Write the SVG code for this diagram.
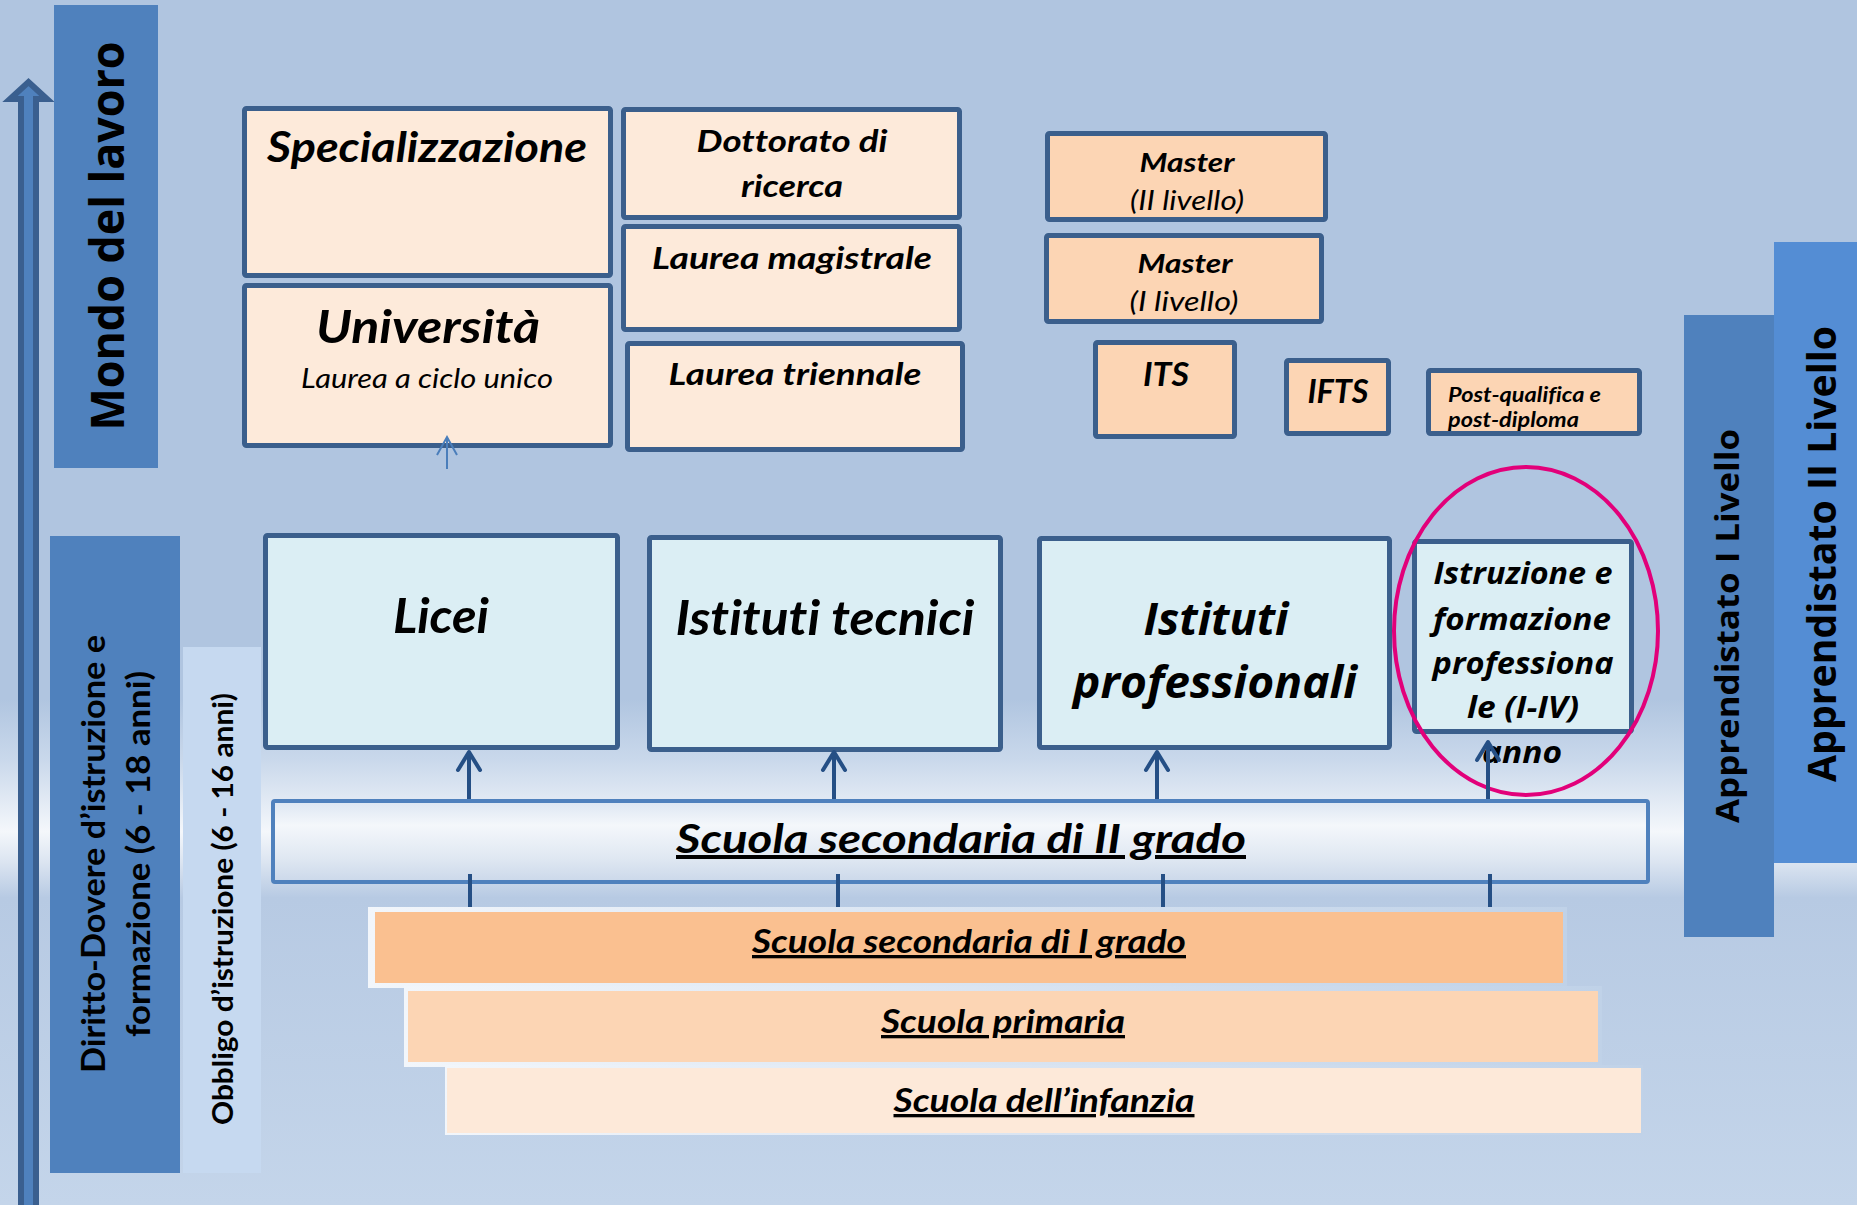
<svg xmlns="http://www.w3.org/2000/svg" width="1857" height="1205" viewBox="0 0 1857 1205">
<defs>
<linearGradient id="bg" x1="0" y1="0" x2="0" y2="1">
<stop offset="0" stop-color="#b0c5e0"/>
<stop offset="0.58" stop-color="#b0c5e0"/>
<stop offset="0.63" stop-color="#c9d8eb"/>
<stop offset="0.665" stop-color="#e2eaf4"/>
<stop offset="0.69" stop-color="#f4f7fb"/>
<stop offset="0.715" stop-color="#dce5f1"/>
<stop offset="0.745" stop-color="#b7cae3"/>
<stop offset="1" stop-color="#c4d5ea"/>
</linearGradient>
<linearGradient id="sec2" x1="0" y1="0" x2="0" y2="1">
<stop offset="0" stop-color="#dce6f2"/>
<stop offset="0.3" stop-color="#f4f7fb"/>
<stop offset="0.7" stop-color="#e0e8f2"/>
<stop offset="1" stop-color="#cbd8ea"/>
</linearGradient>
<linearGradient id="frame" x1="0" y1="0" x2="1" y2="0">
<stop offset="0" stop-color="#f2f6fb"/>
<stop offset="1" stop-color="#c0d2e8"/>
</linearGradient>
<marker id="ah" markerUnits="userSpaceOnUse" markerWidth="28" markerHeight="28" refX="21" refY="14" orient="auto">
<path d="M3,3 L21,14 L3,25" fill="none" stroke="#254f85" stroke-width="4" stroke-linecap="round" stroke-linejoin="round"/>
</marker>
<marker id="ahs" markerUnits="userSpaceOnUse" markerWidth="24" markerHeight="24" refX="20" refY="12" orient="auto">
<path d="M2,2 L20,12 L2,22" fill="none" stroke="#4a7ebb" stroke-width="2"/>
</marker>
</defs>
<style>
.box{stroke:#3b5f8c;stroke-width:5}
.p1{fill:#fdeada}
.p2{fill:#fcd5b4}
.cy{fill:#dbeef4}
text{font-variant-ligatures:none}
.t{font-family:Lato,'Liberation Sans',sans-serif;font-weight:bold;font-style:italic;fill:#000;text-anchor:middle}
.ti{font-family:Lato,'Liberation Sans',sans-serif;font-weight:normal;font-style:italic;fill:#000;text-anchor:middle}
.o{font-family:'Open Sans','DejaVu Sans',sans-serif;font-weight:bold;font-style:italic;fill:#000;text-anchor:middle}
.ob{font-family:'Open Sans','DejaVu Sans',sans-serif;font-weight:bold;fill:#000;text-anchor:middle}
.lb{font-family:Lato,'Liberation Sans',sans-serif;font-weight:bold;fill:#000;text-anchor:middle}
.conn{stroke:#254f85;stroke-width:4;fill:none}
</style>
<rect x="0" y="0" width="1857" height="1205" fill="url(#bg)"/>

<g id="arrow-mondo">
<polygon points="21,1212 21,99 10,99 28.5,82 47,99 36,99 36,1212" fill="#4f81bd" stroke="#3a5f8f" stroke-width="6" stroke-linejoin="miter"/>
</g>

<g id="mondo-lavoro">
<rect x="54" y="5" width="104" height="463" fill="#4f81bd"/>
<text class="ob" font-size="46" transform="translate(124,236) rotate(-90)" textLength="389" lengthAdjust="spacingAndGlyphs">Mondo del lavoro</text>
</g>

<g id="diritto-dovere">
<rect x="50" y="536" width="130" height="637" fill="#4f81bd"/>
<text class="lb" font-size="33" transform="translate(105,854) rotate(-90)" textLength="438" lengthAdjust="spacingAndGlyphs">Diritto-Dovere d’istruzione e</text>
<text class="lb" font-size="33" transform="translate(150,854) rotate(-90)" textLength="366" lengthAdjust="spacingAndGlyphs">formazione (6 - 18 anni)</text>
</g>

<g id="obbligo">
<rect x="183" y="647" width="78" height="526" fill="#c6d9f0"/>
<text class="lb" font-size="28" transform="translate(233,909) rotate(-90)" textLength="432" lengthAdjust="spacingAndGlyphs">Obbligo d’istruzione (6 - 16 anni)</text>
</g>

<g id="apprendistato-1">
<rect x="1684" y="315" width="90" height="622" fill="#4f81bd"/>
<text class="ob" font-size="33" transform="translate(1739,626) rotate(-90)" textLength="394" lengthAdjust="spacingAndGlyphs">Apprendistato I Livello</text>
</g>

<g id="apprendistato-2">
<rect x="1774" y="242" width="83" height="621" fill="#548dd4"/>
<text class="ob" font-size="39" transform="translate(1836,554) rotate(-90)" textLength="456" lengthAdjust="spacingAndGlyphs">Apprendistato II Livello</text>
</g>

<g id="specializzazione">
<rect class="box p1" x="244.5" y="108.5" width="366" height="167" rx="2"/>
<text class="t" x="427" y="162" font-size="42" textLength="320" lengthAdjust="spacingAndGlyphs">Specializzazione</text>
</g>

<g id="universita">
<rect class="box p1" x="244.5" y="285.5" width="366" height="160" rx="2"/>
<text class="t" x="428" y="343" font-size="46" textLength="224" lengthAdjust="spacingAndGlyphs">Università</text>
<text class="ti" x="427" y="388" font-size="27" textLength="252" lengthAdjust="spacingAndGlyphs">Laurea a ciclo unico</text>
</g>

<g id="dottorato">
<rect class="box p1" x="623.5" y="109.5" width="336" height="108" rx="2"/>
<text class="t" x="792" y="152" font-size="31" textLength="191" lengthAdjust="spacingAndGlyphs">Dottorato di</text>
<text class="t" x="792" y="197" font-size="31" textLength="102" lengthAdjust="spacingAndGlyphs">ricerca</text>
</g>

<g id="laurea-magistrale">
<rect class="box p1" x="623.5" y="226.5" width="336" height="103" rx="2"/>
<text class="t" x="792" y="269" font-size="31" textLength="280" lengthAdjust="spacingAndGlyphs">Laurea magistrale</text>
</g>

<g id="laurea-triennale">
<rect class="box p1" x="627.5" y="343.5" width="335" height="106" rx="2"/>
<text class="t" x="795" y="385" font-size="31" textLength="253" lengthAdjust="spacingAndGlyphs">Laurea triennale</text>
</g>

<g id="master-2">
<rect class="box p2" x="1047.5" y="133.5" width="278" height="86" rx="2"/>
<text class="t" x="1187" y="172" font-size="27" textLength="95" lengthAdjust="spacingAndGlyphs">Master</text>
<text class="ti" x="1187" y="210" font-size="27" textLength="114" lengthAdjust="spacingAndGlyphs">(II livello)</text>
</g>

<g id="master-1">
<rect class="box p2" x="1046.5" y="235.5" width="275" height="86" rx="2"/>
<text class="t" x="1185" y="273" font-size="27" textLength="95" lengthAdjust="spacingAndGlyphs">Master</text>
<text class="ti" x="1184" y="311" font-size="27" textLength="109" lengthAdjust="spacingAndGlyphs">(I livello)</text>
</g>

<g id="its">
<rect class="box p2" x="1095.5" y="342.5" width="139" height="94" rx="2"/>
<text class="t" x="1166" y="386" font-size="32" textLength="46" lengthAdjust="spacingAndGlyphs">ITS</text>
</g>

<g id="ifts">
<rect class="box p2" x="1286.5" y="360.5" width="102" height="73" rx="2"/>
<text class="t" x="1338" y="403" font-size="32" textLength="61" lengthAdjust="spacingAndGlyphs">IFTS</text>
</g>

<g id="post-qualifica">
<rect class="box p2" x="1428.5" y="370.5" width="211" height="63" rx="2" stroke-width="4"/>
<text class="t" x="1448" y="402" font-size="20" style="text-anchor:start" textLength="153" lengthAdjust="spacingAndGlyphs">Post-qualifica e</text>
<text class="t" x="1448" y="427" font-size="20" style="text-anchor:start" textLength="131" lengthAdjust="spacingAndGlyphs">post-diploma</text>
</g>

<g id="licei">
<rect class="box cy" x="265.5" y="535.5" width="352" height="212" rx="2"/>
<text class="t" x="441" y="633" font-size="47" textLength="96" lengthAdjust="spacingAndGlyphs">Licei</text>
</g>

<g id="istituti-tecnici">
<rect class="box cy" x="649.5" y="537.5" width="351" height="212" rx="2"/>
<text class="t" x="825" y="635" font-size="47" textLength="299" lengthAdjust="spacingAndGlyphs">Istituti tecnici</text>
</g>

<g id="istituti-professionali">
<rect class="box cy" x="1039.5" y="538.5" width="350" height="209" rx="2"/>
<text class="o" x="1216" y="635" font-size="45" textLength="145" lengthAdjust="spacingAndGlyphs">Istituti</text>
<text class="o" x="1215" y="698" font-size="45" textLength="284" lengthAdjust="spacingAndGlyphs">professionali</text>
</g>

<g id="iefp">
<rect class="box cy" x="1414.5" y="541.5" width="217" height="190" rx="2"/>
<text class="o" x="1523" y="584" font-size="30" textLength="179" lengthAdjust="spacingAndGlyphs">Istruzione e</text>
<text class="o" x="1522" y="630" font-size="30" textLength="178" lengthAdjust="spacingAndGlyphs">formazione</text>
<text class="o" x="1523" y="674" font-size="30" textLength="181" lengthAdjust="spacingAndGlyphs">professiona</text>
<text class="o" x="1523" y="718" font-size="30" textLength="112" lengthAdjust="spacingAndGlyphs">le (I-IV)</text>
<text class="o" x="1522" y="763" font-size="30" textLength="80" lengthAdjust="spacingAndGlyphs">anno</text>
<ellipse cx="1526" cy="631" rx="132" ry="164" fill="none" stroke="#e2007a" stroke-width="4"/>
</g>

<g id="secondaria-2">
<rect x="273" y="801" width="1375" height="81" rx="2" fill="url(#sec2)" stroke="#4f81bd" stroke-width="4"/>
<text class="t" x="961" y="853" font-size="40" text-decoration="underline" textLength="570" lengthAdjust="spacingAndGlyphs">Scuola secondaria di II grado</text>
</g>

<g id="connectors">
<line class="conn" x1="469" y1="799" x2="469" y2="752" marker-end="url(#ah)"/>
<line class="conn" x1="834" y1="799" x2="834" y2="752" marker-end="url(#ah)"/>
<line class="conn" x1="1157" y1="799" x2="1157" y2="752" marker-end="url(#ah)"/>
<line class="conn" x1="1488" y1="799" x2="1488" y2="742" marker-end="url(#ah)"/>
<line class="conn" x1="470" y1="874" x2="470" y2="911"/>
<line class="conn" x1="838" y1="874" x2="838" y2="911"/>
<line class="conn" x1="1163" y1="874" x2="1163" y2="911"/>
<line class="conn" x1="1490" y1="874" x2="1490" y2="911"/>
<line x1="447" y1="469" x2="447" y2="437" stroke="#4a7ebb" stroke-width="2" marker-end="url(#ahs)"/>
</g>

<g id="secondaria-1">
<rect x="368" y="907" width="1199" height="81" fill="url(#frame)"/>
<rect x="375" y="912" width="1188" height="71" fill="#fac090"/>
<text class="t" x="969" y="953" font-size="33" text-decoration="underline" textLength="434" lengthAdjust="spacingAndGlyphs">Scuola secondaria di I grado</text>
</g>

<g id="primaria">
<rect x="404" y="986" width="1198" height="81" fill="url(#frame)"/>
<rect x="408" y="991" width="1190" height="71" fill="#fcd5b4"/>
<text class="t" x="1003" y="1033" font-size="33" text-decoration="underline" textLength="244" lengthAdjust="spacingAndGlyphs">Scuola primaria</text>
</g>

<g id="infanzia">
<rect x="445" y="1065" width="1198" height="70" fill="url(#frame)"/>
<rect x="447" y="1068" width="1194" height="65" fill="#fde9d9"/>
<text class="t" x="1044" y="1112" font-size="33" text-decoration="underline" textLength="301" lengthAdjust="spacingAndGlyphs">Scuola dell’infanzia</text>
</g>
</svg>
